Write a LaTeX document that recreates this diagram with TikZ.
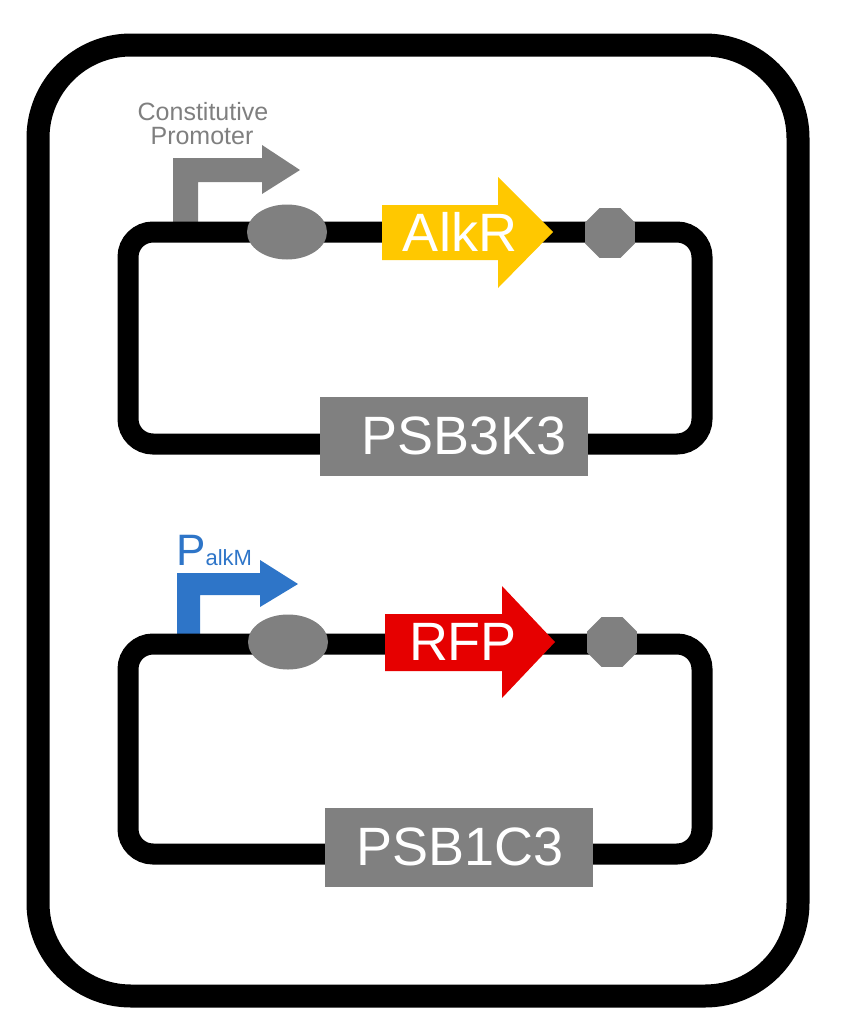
\documentclass[tikz,border=0pt]{standalone}
\usepackage{fontspec}
\setmainfont{Liberation Sans}
\usetikzlibrary{shapes.geometric, calc}

\definecolor{partgray}{RGB}{128,128,128}
\definecolor{labelgray}{RGB}{127,127,127}
\definecolor{alkyellow}{RGB}{255,200,0}
\definecolor{rfpred}{RGB}{230,0,0}
\definecolor{promblue}{RGB}{46,117,200}

\begin{document}
\begin{tikzpicture}[x=1pt, y=-1pt,
    backbone/.style={line width=21pt, rounded corners=25pt},
    rbs/.style={ellipse, fill=partgray, minimum width=80pt, minimum height=55pt, inner sep=0pt},
    terminator/.style={regular polygon, regular polygon sides=8, fill=partgray, minimum size=54pt, inner sep=0pt},
    plasmidbox/.style={fill=partgray, minimum width=268pt, minimum height=79pt, inner sep=0pt},
    bigtext/.style={text=white, inner sep=0pt, font=\fontsize{54}{54}\selectfont}]
    \useasboundingbox (0,0) rectangle (850,1031);

    % Cell outline
    \draw[line width=23pt, rounded corners=93pt] (38,45) rectangle (798,996);

    % Promoters (stems run under the backbone)
    \fill[partgray] (173,232) -- (173,158) -- (262,158) -- (262,145) -- (300,170)
        -- (262,194) -- (262,182) -- (198,182) -- (198,232) -- cycle;
    \fill[promblue] (177,644) -- (177,573) -- (260,573) -- (260,560) -- (298,584)
        -- (260,607) -- (260,595) -- (200,595) -- (200,644) -- cycle;

    % Plasmid backbones
    \draw[backbone] (128,232) rectangle (702,444);
    \draw[backbone] (128,644) rectangle (702,854);

    % Promoter labels
    \node[anchor=base, inner sep=0pt, text=labelgray, font=\fontsize{25}{25}\selectfont] (cp1) at (203,120) {Constitutive};
    \node[anchor=base, inner sep=0pt, text=labelgray, font=\fontsize{25}{25}\selectfont] (cp2) at (202,144) {Promoter};
    \node[anchor=base west, inner sep=0pt, text=promblue] (palkm) at (176,565)
        {\fontsize{44}{44}\selectfont P\fontsize{22}{22}\selectfont alkM};

    % RBS and terminators
    \node[rbs] (rbs1) at (287,232) {};
    \node[rbs] (rbs2) at (288,642) {};
    \node[terminator] (ter1) at (610,233) {};
    \node[terminator] (ter2) at (612,642) {};

    % Coding sequences
    \fill[alkyellow] (382,205) -- (498,205) -- (498,177) -- (553,232)
        -- (498,288) -- (498,260) -- (382,260) -- cycle;
    \node[bigtext] (alkr) at (460,232) {AlkR};
    \fill[rfpred] (385,614) -- (502,614) -- (502,586) -- (555,642)
        -- (502,698) -- (502,671) -- (385,671) -- cycle;
    \node[bigtext] (rfp) at (463,642) {RFP};

    % Backbone names
    \node[plasmidbox] (pk3) at (454,436) {};
    \node[bigtext] (pk3lbl) at (464,436) {PSB3K3};
    \node[plasmidbox] (pc3) at (459,847) {};
    \node[bigtext] (pc3lbl) at (460,847) {PSB1C3};
\end{tikzpicture}
\end{document}
